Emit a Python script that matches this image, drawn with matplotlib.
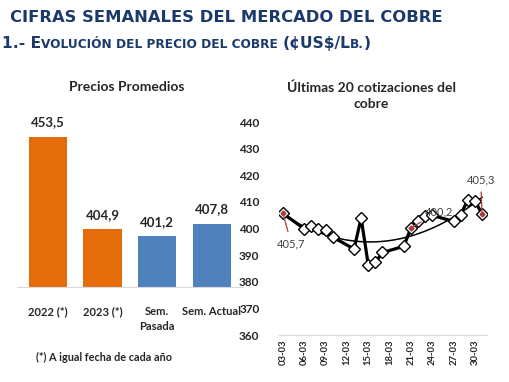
import numpy as np
import matplotlib.pyplot as plt
from matplotlib.offsetbox import TextArea, HPacker, AnchoredOffsetbox

# Precios promedios (¢US$/lb)
bar_labels = ['2022 (*)', '2023 (*)', 'Sem.\nPasada', 'Sem. Actual']
bar_values = [453.5, 404.9, 401.2, 407.8]
bar_colors = ['#E46C0A', '#E46C0A', '#4F81BD', '#4F81BD']

# Ultimas cotizaciones (dia de marzo -> precio)
quote_days = [3, 6, 7, 8, 9, 10, 13, 14, 15, 16, 17, 20, 21, 22, 23, 24, 27, 28, 29, 30, 31]
quote_values = [405.7, 399.9, 400.8, 399.9, 399.6, 396.8, 392.3, 403.9, 386.4, 387.3, 391.0,
                393.3, 400.2, 403.0, 404.8, 404.9, 402.7, 405.2, 410.8, 410.5, 405.3]
tick_days = [3, 6, 9, 12, 15, 18, 21, 24, 27, 30]
tick_labels = [f'{d:02d}-03' for d in tick_days]
y_ticks = [360, 370, 380, 390, 400, 410, 420, 430, 440]

NAVY = '#1B3A6B'
TXT = '#262626'
RED = '#B03A3A'
FONT = 'Lato'

fig = plt.figure(figsize=(5.1, 3.82), dpi=100)

# header
fig.text(0.02, 0.942, 'CIFRAS SEMANALES DEL MERCADO DEL COBRE', family='DejaVu Sans',
         weight='bold', size=11.8, color=NAVY, va='baseline')

big = dict(family='DejaVu Sans', weight='bold', size=11.2, color=NAVY)
small = dict(family='DejaVu Sans', weight='bold', size=8.7, color=NAVY)
parts = [('1.- E', big), ('VOLUCIÓN DEL PRECIO DEL COBRE ', small), ('(¢US$/L', big),
         ('B.', small), (')', big)]
pack = HPacker(children=[TextArea(t, textprops=p) for t, p in parts], align='baseline', pad=0, sep=0)
box = AnchoredOffsetbox(loc='lower left', child=pack, frameon=False, pad=0, borderpad=0,
                        bbox_to_anchor=(0.004, 0.866), bbox_transform=fig.transFigure)
fig.add_artist(box)

# left: average prices
ax1 = fig.add_axes([0.033, 0.2495, 0.444, 0.431])
x = np.arange(len(bar_values))
ax1.bar(x, bar_values, width=0.7, color=bar_colors, zorder=2)
ax1.set_ylim(374.8, 461.2)
ax1.set_xlim(-0.57, 3.58)
for xi, v in zip(x, bar_values):
    ax1.annotate(f'{v:.1f}'.replace('.', ','), (xi, v), xytext=(0, 6), textcoords='offset points',
                 ha='center', va='bottom', family=FONT, weight='bold', size=9.5, color=TXT)
for s in ['top', 'right', 'left']:
    ax1.spines[s].set_visible(False)
ax1.spines['bottom'].set_color('#D9D9D9')
ax1.set_yticks([])
ax1.set_xticks(x)
ax1.set_xticklabels(bar_labels, family=FONT, weight='bold', size=8, color=TXT, linespacing=1.4)
ax1.tick_params(axis='x', length=0, pad=14)
fig.text(0.249, 0.773, 'Precios Promedios', ha='center', va='center', family=FONT,
         weight='bold', size=10, color=TXT)
fig.text(0.07, 0.063, '(*) A igual fecha de cada año', ha='left', va='center', family=FONT,
         weight='bold', size=7.8, color=TXT)

# right: last quotes
ax2 = fig.add_axes([0.547, 0.123, 0.408, 0.5576])
days = np.array(quote_days) - 3
vals = np.array(quote_values)
coef = np.polyfit(days, vals, 2)
tx = np.linspace(days[0], days[-1], 100)
ax2.plot(tx, np.polyval(coef, tx), color='black', lw=1.1, zorder=2)
ax2.plot(days, vals, color='black', lw=2.3, marker='D', ms=6, mfc='white', mec='black',
         mew=1.0, zorder=3)
ax2.set_xlim(-0.55, 28.7)
ax2.set_ylim(360, 440)
ax2.set_yticks(y_ticks)
ax2.set_yticklabels([str(t) for t in y_ticks], family=FONT, weight='bold', size=8.5, color=TXT)
ax2.set_xticks(np.array(tick_days) - 3)
ax2.set_xticklabels(tick_labels, rotation=90, family=FONT, weight='bold', size=6.8, color=TXT)
ax2.tick_params(axis='y', length=0, pad=14)
ax2.tick_params(axis='x', length=0, pad=3)
for s in ['top', 'right', 'left']:
    ax2.spines[s].set_visible(False)
ax2.spines['bottom'].set_color('#D9D9D9')

# labelled points
notes = [(0, '405,7', (1.2, 394.3), 'center'),
         (12, '400,2', (19.9, 406.4), 'left'),
         (20, '405,3', (27.8, 418.4), 'center')]
for i, txt, pos, ha in notes:
    ax2.annotate(txt, (days[i], vals[i]), xytext=pos, textcoords='data', ha=ha, va='center',
                 family=FONT, size=8, color='#404040',
                 arrowprops=dict(arrowstyle='-', color=RED, lw=0.9, shrinkA=3, shrinkB=0))
    ax2.plot(days[i], vals[i], marker='D', ms=2.5, color=RED, zorder=4)

fig.text(0.728, 0.749, 'Últimas 20 cotizaciones del\ncobre', ha='center', va='center',
         family=FONT, weight='bold', size=10, color=TXT, linespacing=1.35)

fig.savefig('out.png', dpi=100)
